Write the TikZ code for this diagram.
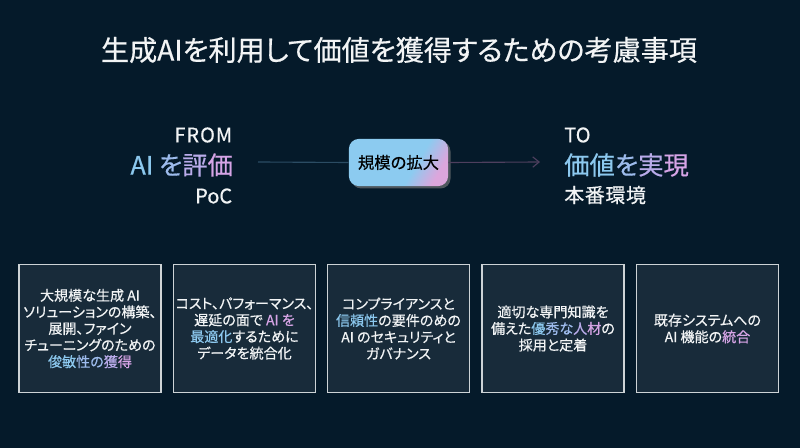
\documentclass[tikz,border=0pt]{standalone}
\usepackage{fontspec}
\setmainfont[RawFeature={+palt}, FakeBold=0.5]{Noto Sans CJK JP}
\usetikzlibrary{arrows.meta, shadows}
\definecolor{bgcol}{HTML}{051A2A}
\definecolor{boxcol}{HTML}{182B3A}
\definecolor{boxline}{HTML}{CDD3D6}
\definecolor{txtcol}{HTML}{F2F4F5}
\definecolor{gradA}{HTML}{8CC8EE}
\definecolor{gradB}{HTML}{9DBBEC}
\definecolor{gradC}{HTML}{B9ABEA}
\definecolor{gradD}{HTML}{D6A4E6}
\definecolor{pillA}{HTML}{8CCBF0}
\definecolor{pillB}{HTML}{DCA6DC}
\definecolor{leftline}{HTML}{2B4C63}
\definecolor{rightline}{HTML}{4E3F5E}
\newcommand{\ga}[1]{\textcolor{gradA}{#1}}
\newcommand{\gb}[1]{\textcolor{gradB}{#1}}
\newcommand{\gc}[1]{\textcolor{gradC}{#1}}
\newcommand{\gd}[1]{\textcolor{gradD}{#1}}
\pgfdeclarehorizontalshading{pillshade}{100bp}{%
	color(0bp)=(pillA); color(60bp)=(pillA); color(75bp)=(pillB); color(100bp)=(pillB)}
\tikzset{
	infobox/.style={rectangle, draw=boxline, fill=boxcol, line width=1.3pt, minimum width=3.55cm, minimum height=3.2cm, inner sep=0pt, align=center, text=txtcol, font=\fontsize{10}{11.8}\selectfont},
	pillnode/.style={rectangle, rounded corners=2.5mm, minimum width=2.48cm, minimum height=1.18cm, shading=pillshade, shading angle=-30, drop shadow={opacity=0.6, shadow xshift=0.6mm, shadow yshift=-0.6mm}, font=\fontsize{11.6}{13}\selectfont, text=black},
	smalltxt/.style={inner sep=0pt, text=txtcol, font=\fontsize{14.2}{16}\selectfont},
	bigtxt/.style={inner sep=0pt, font=\fontsize{18}{20}\selectfont}
}

\begin{document}
\begin{tikzpicture}
		\fill[bgcol] (0,0) rectangle (20,11.2);
		\node[text=txtcol, inner sep=0pt, font=\fontsize{20}{24}\selectfont] at (9.975,9.95) (title) {生成AIを利用して価値を獲得するための考慮事項};

		\node[smalltxt, anchor=east] at (5.81,7.825) (from) {\addfontfeature{LetterSpace=5}FROM};
		\node[bigtxt, anchor=east] at (5.83,7.075) (eval) {\ga{AI} \gb{を}\gc{評}\gd{価}};
		\node[smalltxt, anchor=east] at (5.81,6.3) (poc) {PoC};
		\node[smalltxt, anchor=west] at (14.1,7.825) (to) {TO};
		\node[bigtxt, anchor=west] at (14.1,7.075) (value) {\ga{価}\ga{値}\gb{を}\gc{実}\gd{現}};
		\node[smalltxt, anchor=west] at (14.1,6.325) (prod) {\addfontfeature{LetterSpace=3}本番環境};

		\node[pillnode] at (9.9625,7.1375) (scale) {規模の拡大};
		\coordinate (start) at (6.45,7.15);
		\coordinate (end) at (13.5,7.15);

		\node[infobox] at (2.25,2.9875) (agile) {大規模な生成 AI\\ソリューションの構築、\\展開、ファイン\\チューニングのための\\\ga{俊}\ga{敏}\gb{性}\gb{の}\gc{獲}\gd{得}};
		\node[infobox] at (6.1125,2.9875) (cost) {コスト、パフォーマンス、\\遅延の面で \gd{AI を}\\\ga{最適化}するために\\データを統合化};
		\node[infobox] at (9.9625,2.9875) (trust) {コンプライアンスと\\\ga{信頼性}の要件のめの\\AI のセキュリティと\\ガバナンス};
		\node[infobox] at (13.825,2.9875) (talent) {適切な専門知識を\\備えた\ga{優}\gb{秀}\gb{な}\gc{人}\gd{材}の\\採用と定着};
		\node[infobox] at (17.6875,2.9875) (integ) {既存システムへの\\AI 機能の\gd{統合}};

		%Lines
		\draw[leftline, thick] (start) -- (scale.west);
		\draw[-{Straight Barb[length=1.6mm,width=2.6mm]}, rightline, thick] (scale.east) -- (end);
	\end{tikzpicture}
\end{document}
